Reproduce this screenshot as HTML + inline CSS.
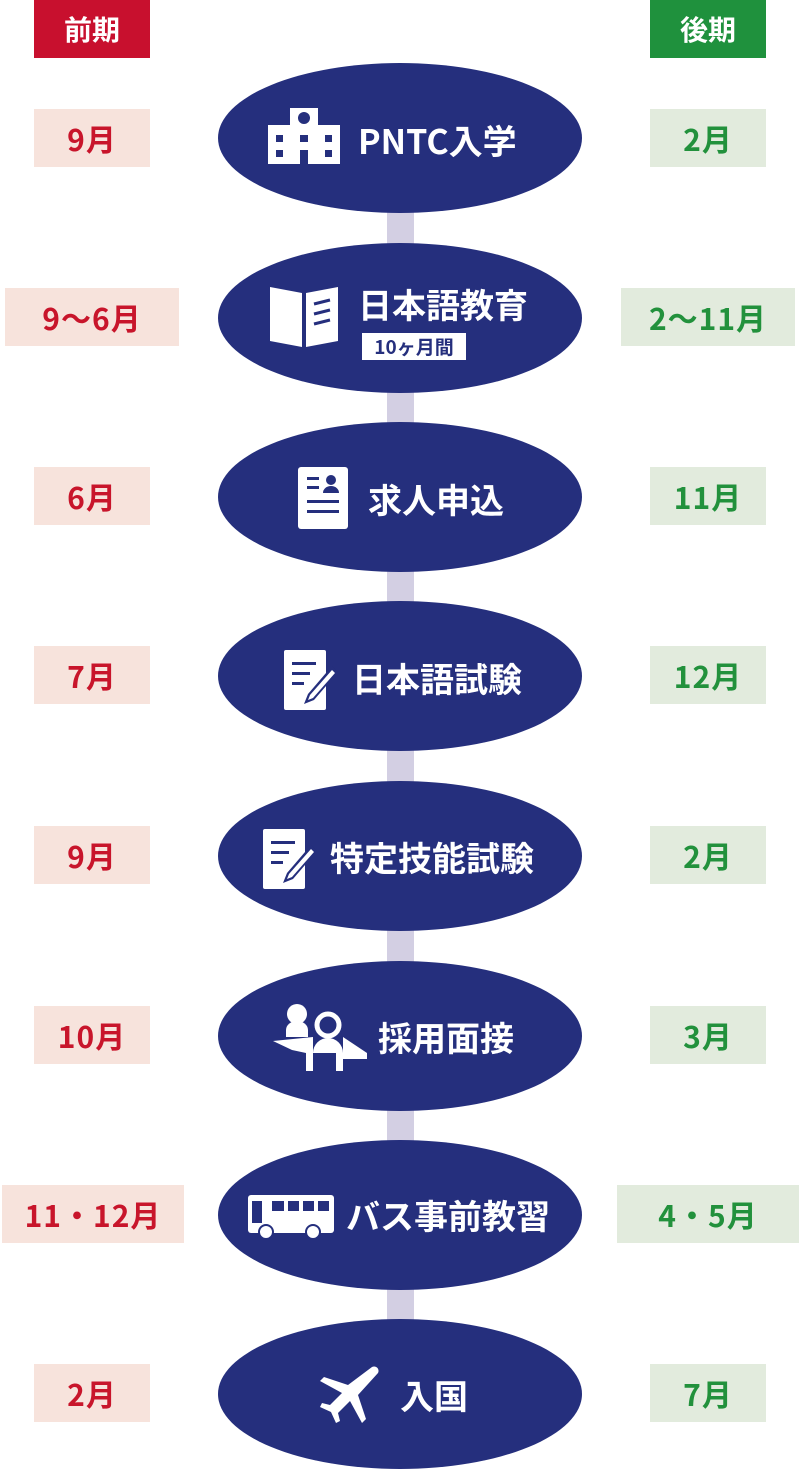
<!DOCTYPE html>
<html><head><meta charset="utf-8"><style>
*{margin:0;padding:0;box-sizing:border-box}
body{width:799px;height:1468px;background:#fff;position:relative;overflow:hidden;font-family:"Noto Sans CJK JP","Liberation Sans",sans-serif;font-weight:bold}
.a{position:absolute}
.hd{position:absolute;top:0;height:58px;color:#fff;font-size:28px;display:flex;align-items:center;justify-content:center}
.bx{position:absolute;height:58px;display:flex;align-items:center;justify-content:center;font-size:30px;letter-spacing:1px}
.l{background:#f7e3dc;color:#c8152b}
.r{background:#e2ebdd;color:#22913c}
.el{position:absolute;left:218px;width:364px;height:150px;border-radius:50%;background:#252f7d}
.bar{position:absolute;left:387px;width:27px;background:#d3cfe3}
.t{position:absolute;color:#fff;font-size:34px;line-height:40px;white-space:nowrap}
svg{position:absolute}
</style></head><body>
<div class="hd" style="left:34px;width:116px;background:#c8102e">前期</div>
<div class="hd" style="left:650px;width:116px;background:#1f913d">後期</div>

<div class="bar" style="top:200px;height:1140px"></div>

<div class="el" style="top:63px"></div>
<div class="el" style="top:243px"></div>
<div class="el" style="top:422px"></div>
<div class="el" style="top:601px"></div>
<div class="el" style="top:781px"></div>
<div class="el" style="top:961px"></div>
<div class="el" style="top:1140px"></div>
<div class="el" style="top:1319px"></div>

<div class="bx l" style="left:34px;width:116px;top:109px">9月</div>
<div class="bx l" style="left:5px;width:174px;top:288px">9〜6月</div>
<div class="bx l" style="left:34px;width:116px;top:467px">6月</div>
<div class="bx l" style="left:34px;width:116px;top:646px">7月</div>
<div class="bx l" style="left:34px;width:116px;top:826px">9月</div>
<div class="bx l" style="left:34px;width:116px;top:1006px">10月</div>
<div class="bx l" style="left:2px;width:182px;top:1185px">11・12月</div>
<div class="bx l" style="left:34px;width:116px;top:1364px">2月</div>

<div class="bx r" style="left:650px;width:116px;top:109px">2月</div>
<div class="bx r" style="left:621px;width:174px;top:288px">2〜11月</div>
<div class="bx r" style="left:650px;width:116px;top:467px">11月</div>
<div class="bx r" style="left:650px;width:116px;top:646px">12月</div>
<div class="bx r" style="left:650px;width:116px;top:826px">2月</div>
<div class="bx r" style="left:650px;width:116px;top:1006px">3月</div>
<div class="bx r" style="left:617px;width:182px;top:1185px">4・5月</div>
<div class="bx r" style="left:650px;width:116px;top:1364px">7月</div>

<svg style="left:268px;top:108px" width="72" height="56" viewBox="0 0 72 56" fill="#fff"><path d="M0 17H22V0H50V17H72V56H0Z"/><g fill="#252f7d"><circle cx="36" cy="10" r="6"/><rect x="8" y="27" width="7" height="7"/><rect x="32" y="27" width="8" height="7"/><rect x="57" y="27" width="7" height="7"/><rect x="8" y="42" width="7" height="7"/><rect x="57" y="42" width="7" height="7"/><rect x="32" y="42" width="8" height="14"/></g></svg>
<div class="t" style="left:358px;top:120px">PNTC入学</div>

<svg style="left:270px;top:287px" width="68" height="60" viewBox="0 0 68 60" fill="#fff"><path d="M0 0L32 6V60L0 54Z"/><path d="M36 6L68 0V54L36 60Z"/><g stroke="#252f7d" stroke-width="3"><path d="M44 17L60 13M44 27L60 23M44 37L60 33"/></g></svg>
<div class="t" style="left:358px;top:284px">日本語教育</div>
<div class="a" style="left:362px;top:333px;width:104px;height:27px;background:#fff;color:#252f7d;font-size:19px;display:flex;align-items:center;justify-content:center">10ヶ月間</div>

<svg style="left:298px;top:467px" width="50" height="62" viewBox="0 0 50 62" fill="#fff"><rect width="50" height="62" rx="3"/><g fill="#252f7d"><circle cx="33" cy="13" r="5"/><path d="M25 26a8 7 0 0 1 16 0Z"/><rect x="9" y="10" width="12" height="3"/><rect x="9" y="19" width="12" height="3"/><rect x="9" y="33" width="32" height="3"/><rect x="9" y="43" width="32" height="3"/></g></svg>
<div class="t" style="left:368px;top:479px">求人申込</div>

<svg style="left:284px;top:650px" width="54" height="60" viewBox="0 0 54 60" fill="#fff"><rect width="42" height="60" rx="2"/><g fill="#252f7d"><rect x="8" y="12" width="24" height="3"/><rect x="8" y="22" width="18" height="3"/><rect x="8" y="32" width="12" height="3"/><path d="M48 16L54 22L30 50L20 54L24 44Z"/></g><path d="M48 20L51 23L29 48L24 50L26 45Z"/></svg>
<div class="t" style="left:352px;top:658px">日本語試験</div>

<svg style="left:263px;top:829px" width="54" height="60" viewBox="0 0 54 60" fill="#fff"><rect width="42" height="60" rx="2"/><g fill="#252f7d"><rect x="8" y="12" width="24" height="3"/><rect x="8" y="22" width="18" height="3"/><rect x="8" y="32" width="12" height="3"/><path d="M48 16L54 22L30 50L20 54L24 44Z"/></g><path d="M48 20L51 23L29 48L24 50L26 45Z"/></svg>
<div class="t" style="left:330px;top:837px">特定技能試験</div>

<svg style="left:273px;top:1003px" width="94" height="68" viewBox="0 0 94 68" fill="#fff"><circle cx="24" cy="11" r="10"/><path d="M13 34V27a11 9 0 0 1 22 0V34Z"/><circle cx="55" cy="22" r="11" fill="none" stroke="#fff" stroke-width="5"/><path d="M0 38L40 34V68H33V50L19 47Z"/><path d="M40 50a15 15 0 0 1 30 0V68H63V50Z"/><path d="M70 34L94 50V56H70Z"/></svg>
<div class="t" style="left:378px;top:1017px">採用面接</div>

<svg style="left:248px;top:1195px" width="86" height="45" viewBox="0 0 86 45" fill="#fff"><rect x="0" y="0" width="86" height="38" rx="3"/><g fill="#252f7d"><rect x="4" y="6" width="10" height="22"/><rect x="24" y="6" width="12" height="10"/><rect x="40" y="6" width="11" height="10"/><rect x="55" y="6" width="11" height="10"/><rect x="70" y="6" width="11" height="10"/></g><circle cx="18" cy="37" r="7" stroke="#252f7d" stroke-width="2"/><circle cx="65" cy="37" r="7" stroke="#252f7d" stroke-width="2"/></svg>
<div class="t" style="left:346px;top:1195px">バス事前教習</div>

<svg style="left:320px;top:1365px" width="60" height="58" viewBox="0 0 60 58" fill="#fff"><path d="M52 2C56 0 60 4 58 8L38 30L46 54L42 58L30 36L18 48L20 56L16 58L11 47L0 42L2 38L10 40L22 28L0 16L4 12L28 20Z"/></svg>
<div class="t" style="left:400px;top:1375px">入国</div>
</body></html>
